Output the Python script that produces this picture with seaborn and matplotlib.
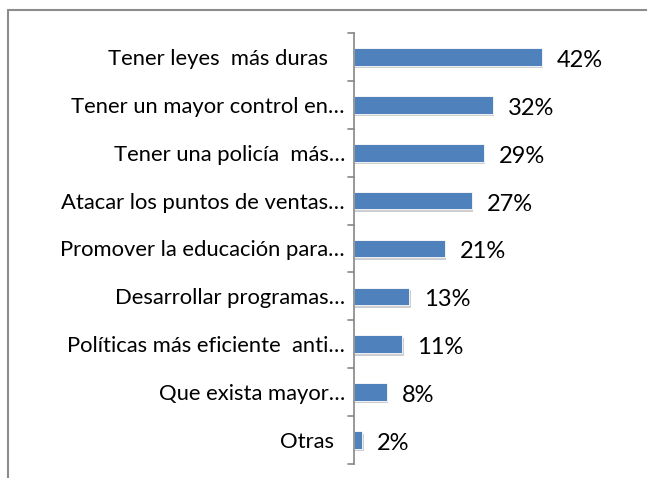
import matplotlib
matplotlib.use('Agg')
import matplotlib.pyplot as plt
import seaborn as sns
import pandas as pd
from matplotlib.lines import Line2D

categories = ['Tener leyes  más duras   ', 'Tener un mayor control en…', 'Tener una policía  más…',
              'Atacar los puntos de ventas…', 'Promover la educación para…', 'Desarrollar programas…',
              'Políticas más eficiente  anti…', 'Que exista mayor…', 'Otras  ']
values = [42.2, 31.2, 29.2, 26.5, 20.4, 12.4, 10.8, 7.4, 1.8]
labels = ['42%', '32%', '29%', '27%', '21%', '13%', '11%', '8%', '2%']

sns.set_style('white')
plt.rcParams['font.family'] = ['Lato', 'DejaVu Sans']

df = pd.DataFrame({'cat': categories, 'val': values})

W, H = 647, 478
fig = plt.figure(figsize=(W / 100, H / 100), dpi=100)
# axes: x from 354px, y from 33px to 464px
ax = fig.add_axes([354 / W, 1 - 464 / H, (640 - 354) / W, (464 - 33) / H])

# soft shadow behind bars
for i, v in enumerate(values):
    ax.barh(i + 0.05, v + 0.35, height=0.37, color='#cfcfcf', zorder=1, linewidth=0)
sns.barplot(data=df, y='cat', x='val', orient='h', color='#4f81bd', saturation=1,
            width=0.37, ax=ax, zorder=2, edgecolor='white', linewidth=0.6)

ax.set_xlim(0, 286 / 4.45)
ax.set_ylim(len(values) - 0.5, -0.5)
ax.set_xlabel('')
ax.set_ylabel('')
ax.set_xticks([])

for i, (v, lab) in enumerate(zip(values, labels)):
    ax.annotate(lab, (v, i), xytext=(11, -2.5), textcoords='offset points',
                va='center', ha='left', fontsize=17, color='black')

ax.set_yticks(range(len(values)))
ax.set_yticklabels(categories, fontsize=15.8, color='black')
ax.tick_params(axis='y', length=0, pad=6.5)
# tick marks at category boundaries
for b in range(len(values) + 1):
    ax.plot([-0.022, 0], [b - 0.5, b - 0.5], transform=ax.get_yaxis_transform(),
            color='#868686', lw=1.2, clip_on=False)

for s in ['top', 'right', 'bottom']:
    ax.spines[s].set_visible(False)
ax.spines['left'].set_color('#868686')
ax.spines['left'].set_linewidth(1.2)

# outer chart border (top and left only visible)
fig.add_artist(Line2D([8 / W, 1], [1 - 10 / H, 1 - 10 / H], color='#8c8c8c', lw=1.5, transform=fig.transFigure))
fig.add_artist(Line2D([8 / W, 8 / W], [0, 1 - 10 / H], color='#8c8c8c', lw=1.5, transform=fig.transFigure))

fig.savefig('out.png', dpi=100)
